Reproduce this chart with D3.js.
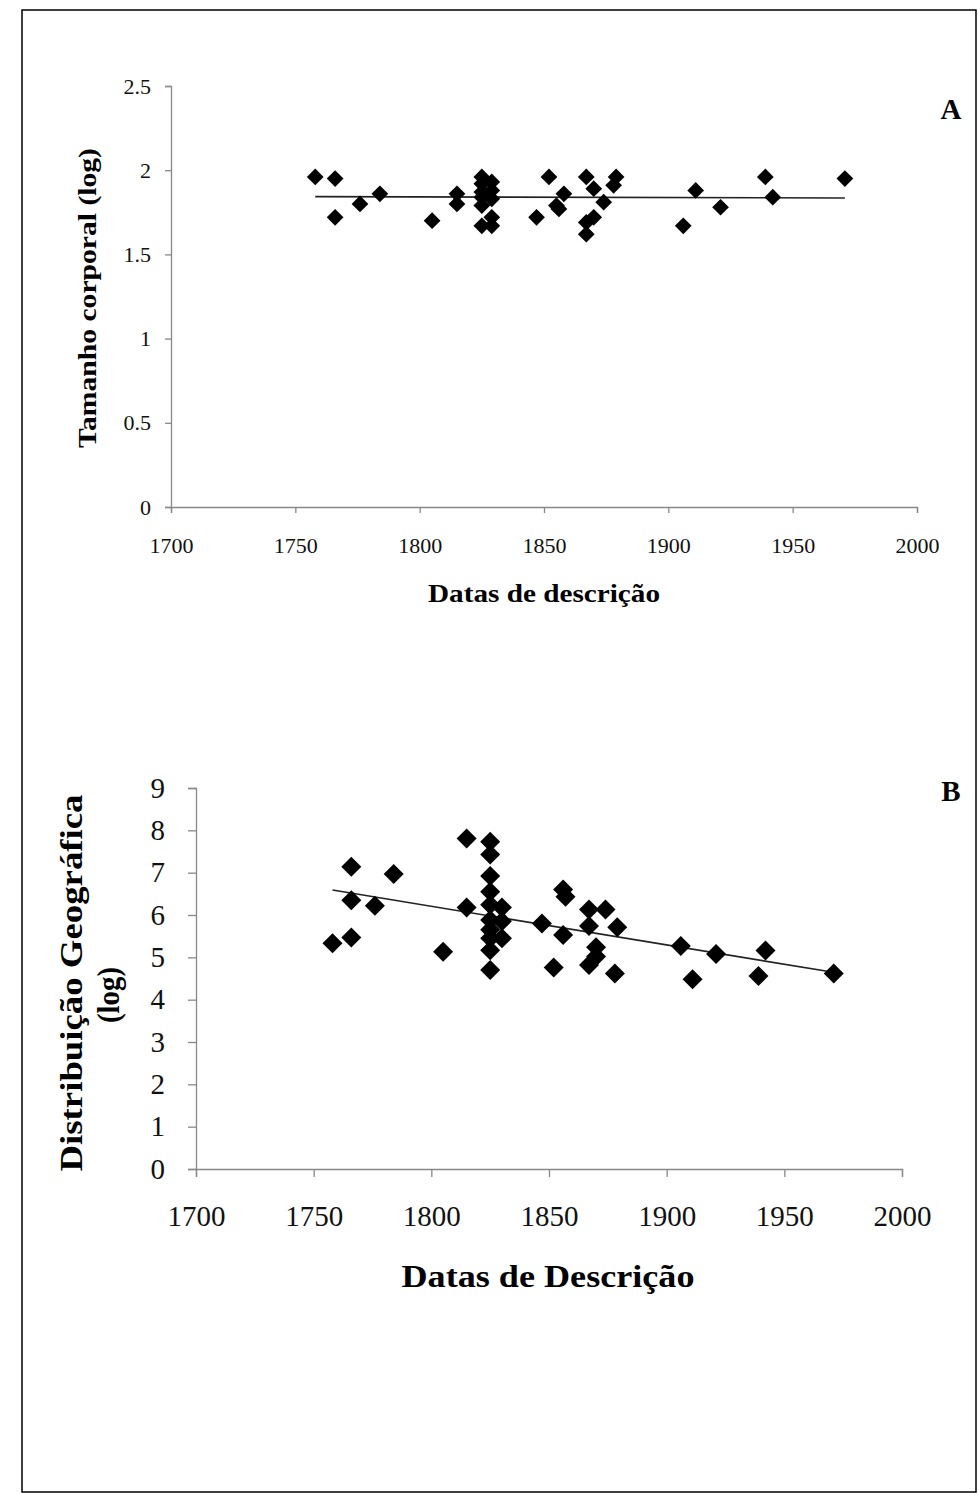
<!DOCTYPE html>
<html><head><meta charset="utf-8">
<script src="https://cdn.jsdelivr.net/npm/d3@7"></script>
<style>
html,body{margin:0;padding:0;background:#fff;}
svg{display:block;font-family:"Liberation Serif","Times New Roman",serif;}
</style></head>
<body>
<script>
// ---------- DATA ----------
const xTicks = [1700, 1750, 1800, 1850, 1900, 1950, 2000];
const yTicksA = [0, 0.5, 1, 1.5, 2, 2.5];
const yTicksB = [0, 1, 2, 3, 4, 5, 6, 7, 8, 9];

const yearsA = [1758,1766,1766,1776,1784,1805,1815,1815,1825,1825,1825,1825,1825,1825,
  1829,1829,1829,1829,1829,1847,1852,1858,1856,1855,1867,1870,1879,1878,1874,1870,1867,1867,
  1911,1921,1906,1939,1942,1971];
const sizeA = [1.96,1.95,1.72,1.80,1.86,1.70,1.86,1.80,1.96,1.92,1.87,1.84,1.79,1.67,
  1.93,1.88,1.83,1.72,1.67,1.72,1.96,1.86,1.77,1.79,1.96,1.89,1.96,1.91,1.81,1.72,1.69,1.62,
  1.88,1.78,1.67,1.96,1.84,1.95];
const trendYearsA = [1758, 1971];
const trendValuesA = [1.843, 1.835];

const yearsB = [1758,1766,1766,1766,1776,1784,1805,1815,1815,
  1825,1825,1825,1825,1825,1825,1825,1825,1825,1825,1830,1830,1830,
  1847,1852,1856,1857,1856,1867,1874,1867,1879,1870,1870,1867,1878,
  1906,1911,1921,1942,1939,1971];
const distB = [5.33,7.14,6.35,5.47,6.22,6.97,5.13,7.81,6.18,
  7.73,7.43,6.92,6.55,6.24,5.88,5.65,5.45,5.17,4.70,6.18,5.85,5.45,
  5.80,4.76,6.60,6.43,5.53,6.13,6.13,5.74,5.71,5.24,5.02,4.82,4.62,
  5.27,4.48,5.08,5.16,4.56,4.62];
const trendYearsB = [1758, 1971.5];
const trendValuesB = [6.59, 4.64];

// ---------- DRAW ----------
const W = 978, H = 1493;
const svg = d3.select("body").append("svg").attr("width", W).attr("height", H);

svg.append("rect").attr("x", 22).attr("y", 10).attr("width", 954).attr("height", 1482)
  .attr("fill", "none").attr("stroke", "#000").attr("stroke-width", 1.5);

function panel(cfg) {
  const x = d3.scaleLinear().domain([1700, 2000]).range([cfg.x0, cfg.x1]);
  const y = d3.scaleLinear().domain(cfg.yDomain).range([cfg.y0, cfg.y1]);
  const g = svg.append("g");

  const xa = g.append("g").attr("transform", `translate(0,${cfg.y0})`)
    .call(d3.axisBottom(x).tickValues(xTicks).tickFormat(d3.format("d"))
      .tickSizeOuter(0).tickSize(cfg.tickSize).tickPadding(cfg.xPad));
  const ya = g.append("g").attr("transform", `translate(${cfg.x0},0)`)
    .call(d3.axisLeft(y).tickValues(cfg.yTicks).tickFormat(d => String(d))
      .tickSizeOuter(0).tickSize(cfg.tickSize).tickPadding(cfg.yPad));
  [xa, ya].forEach(a => {
    a.select(".domain").attr("stroke", "#888").attr("stroke-width", 1.3);
    a.selectAll(".tick line").attr("stroke", "#888").attr("stroke-width", 1.3);
    a.selectAll(".tick text").attr("fill", "#111")
      .style("font-family", '"Liberation Serif",serif').style("font-size", cfg.tickFont + "px");
  });

  // trend line
  const line = d3.line().x(d => x(d[0])).y(d => y(d[1]));
  g.append("path").datum(cfg.trendX.map((d, i) => [d, cfg.trendY[i]]))
    .attr("d", line).attr("fill", "none").attr("stroke", "#222").attr("stroke-width", 1.6);

  // points
  const sym = d3.symbol().type(d3.symbolSquare).size(cfg.symSize);
  g.selectAll("path.pt").data(cfg.xs.map((d, i) => [d, cfg.ys[i]])).enter()
    .append("path").attr("class", "pt").attr("d", sym)
    .attr("transform", d => `translate(${x(d[0])},${y(d[1])}) rotate(45)`)
    .attr("fill", "#000");

  // x title
  g.append("text").attr("x", cfg.xtX).attr("y", cfg.xtY).attr("text-anchor", "middle")
    .attr("font-weight", "bold").attr("font-size", cfg.titleFont)
    .attr("textLength", cfg.xtLen).attr("lengthAdjust", "spacingAndGlyphs")
    .text(cfg.xTitle);
  // y title(s)
  cfg.yTitles.forEach(t => {
    g.append("text").attr("transform", `translate(${t.x},${t.y}) rotate(-90)`)
      .attr("text-anchor", "middle").attr("font-weight", "bold").attr("font-size", cfg.titleFont)
      .attr("textLength", t.len).attr("lengthAdjust", "spacingAndGlyphs")
      .text(t.text);
  });
  // panel letter
  g.append("text").attr("x", cfg.letterX).attr("y", cfg.letterY).attr("text-anchor", "middle")
    .attr("font-weight", "bold").attr("font-size", 29).text(cfg.letter);
}

panel({
  x0: 171, x1: 917, y0: 507, y1: 86, yDomain: [0, 2.5], yTicks: yTicksA,
  tickSize: 6, xPad: 24, yPad: 14, tickFont: 22, symSize: 140,
  xs: yearsA, ys: sizeA, trendX: trendYearsA, trendY: trendValuesA,
  xTitle: "Datas de descrição", xtX: 544, xtY: 602, xtLen: 232, titleFont: 26,
  yTitles: [{text: "Tamanho corporal (log)", x: 96, y: 298, len: 300}],
  letter: "A", letterX: 951, letterY: 119
});

panel({
  x0: 196, x1: 902, y0: 1169, y1: 788, yDomain: [0, 9], yTicks: yTicksB,
  tickSize: 8, xPad: 28, yPad: 23, tickFont: 29, symSize: 200,
  xs: yearsB, ys: distB, trendX: trendYearsB, trendY: trendValuesB,
  xTitle: "Datas de Descrição", xtX: 548, xtY: 1287, xtLen: 293, titleFont: 32,
  yTitles: [{text: "Distribuição Geográfica", x: 82, y: 983, len: 377},
            {text: "(log)", x: 119, y: 995, len: 56}],
  letter: "B", letterX: 951, letterY: 801
});
</script>
</body></html>
